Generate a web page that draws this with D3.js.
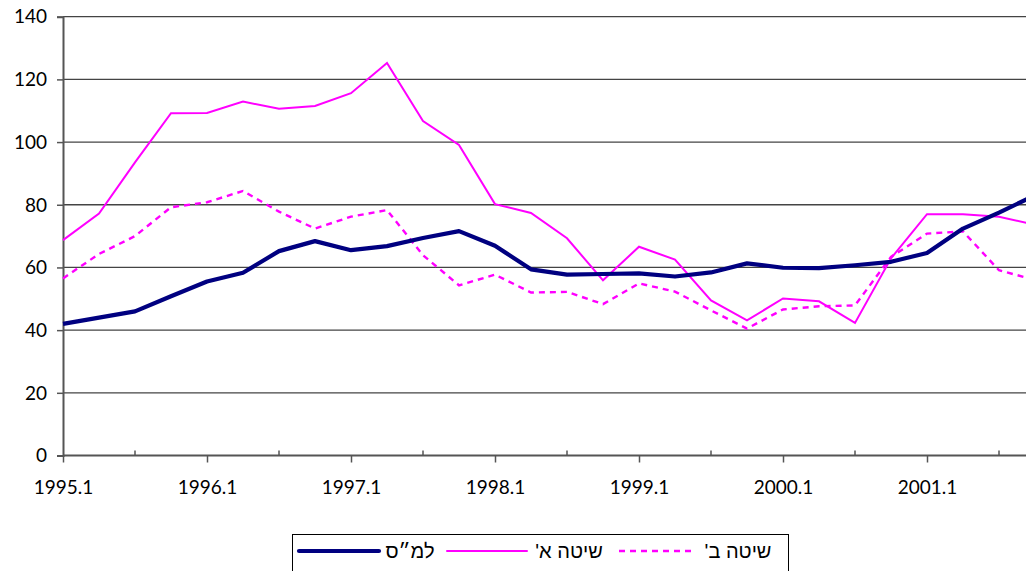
<!DOCTYPE html>
<html><head><meta charset="utf-8">
<script src="https://cdn.jsdelivr.net/npm/d3@7"></script>
<style>
html,body{margin:0;padding:0;background:#fff;overflow:hidden}
svg{display:block}
</style></head>
<body>
<svg id="chart" width="1026" height="571"></svg>
<script>
// ---- data ----
const quarters = [];
for (let y = 1995; y <= 2001; y++) for (let q = 1; q <= 4; q++) quarters.push(y + "." + q);
const seriesNames = ["למ״ס", "שיטה א'", "שיטה ב'"];
const lamas = [42, 44, 46, 50.8, 55.5, 58.3, 65.2, 68.4, 65.5, 66.8, 69.4, 71.6, 66.9, 59.4, 57.7, 57.9, 58.1, 57.1, 58.4, 61.3, 59.9, 59.8, 60.7, 61.8, 64.6, 72.4, 77.5, 83];
const methodA = [68.7, 77.2, 93.5, 109.2, 109.3, 112.9, 110.6, 111.5, 115.6, 125.2, 106.7, 99.1, 80.2, 77.4, 69.3, 55.9, 66.6, 62.5, 49.5, 43.1, 50.1, 49.2, 42.3, 62.9, 77.0, 77.0, 76.2, 73.6];
const methodB = [56.5, 64.3, 70, 79.2, 80.8, 84.4, 77.8, 72.4, 76.2, 78.3, 63.9, 54.3, 57.7, 52.0, 52.2, 48.3, 54.9, 52.3, 46.3, 40.5, 46.6, 47.6, 47.9, 63.4, 70.8, 71.5, 59.1, 56];
const yTicks = [0, 20, 40, 60, 80, 100, 120, 140];

// ---- layout ----
const svg = d3.select("#chart");
const x0 = 63, step = 36;
const x = d3.scalePoint().domain(quarters).range([x0, x0 + step * (quarters.length - 1)]);
const y = d3.scaleLinear().domain([0, 140]).range([455.5, 16.7]);
const FONT = "Lato, 'DejaVu Sans', sans-serif";

// gridlines
svg.append("g").selectAll("line").data(yTicks.filter(d => d > 0)).join("line")
  .attr("x1", x0).attr("x2", 1026).attr("y1", d => y(d)).attr("y2", d => y(d))
  .attr("stroke", "#444").attr("stroke-width", 1.3);

// y axis
const yAxis = d3.axisLeft(y).tickValues(yTicks).tickSize(6).tickPadding(10);
const gy = svg.append("g").attr("transform", `translate(${x0},0)`).call(yAxis);
gy.select(".domain").attr("stroke", "#555").attr("stroke-width", 2);
gy.selectAll(".tick line").attr("stroke", "#555").attr("stroke-width", 1.5);
gy.selectAll(".tick text").attr("font-family", FONT).attr("font-size", 19).attr("fill", "#000").attr("dy", "0.33em");

// x axis (labels at first quarters)
const labelQ = quarters.filter(q => q.endsWith(".1"));
const xAxis = d3.axisBottom(x).tickValues(labelQ).tickSize(7).tickPadding(18);
const gx = svg.append("g").attr("transform", `translate(0,${y(0)})`).call(xAxis);
gx.select(".domain").attr("stroke", "#555").attr("stroke-width", 2).attr("d", `M${x0},0H1026`);
gx.selectAll(".tick line").attr("stroke", "#555").attr("stroke-width", 1.5);
gx.selectAll(".tick text").attr("font-family", FONT).attr("font-size", 19).attr("fill", "#000");
// inner ticks at third quarters
const midQ = quarters.filter(q => q.endsWith(".3"));
svg.append("g").selectAll("line").data(midQ).join("line")
  .attr("x1", d => x(d)).attr("x2", d => x(d)).attr("y1", y(0)).attr("y2", y(0) - 5)
  .attr("stroke", "#555").attr("stroke-width", 1.5);

// lines
const line = d3.line().x((d, i) => x(quarters[i])).y(d => y(d));
const clip = svg.append("clipPath").attr("id", "clip").append("rect")
  .attr("x", 0).attr("y", 0).attr("width", 1026).attr("height", 571);
const lg = svg.append("g").attr("clip-path", "url(#clip)");
lg.append("path").datum(methodB).attr("d", line).attr("fill", "none")
  .attr("stroke", "#FF00FF").attr("stroke-width", 2.4).attr("stroke-dasharray", "6,5");
lg.append("path").datum(methodA).attr("d", line).attr("fill", "none")
  .attr("stroke", "#FF00FF").attr("stroke-width", 2);
lg.append("path").datum(lamas).attr("d", line).attr("fill", "none")
  .attr("stroke", "#000080").attr("stroke-width", 4.2).attr("stroke-linejoin", "round");

// legend
const leg = svg.append("g");
leg.append("rect").attr("x", 292.5).attr("y", 534.5).attr("width", 496).attr("height", 50)
  .attr("fill", "#fff").attr("stroke", "#000").attr("stroke-width", 1);
const legItems = [
  {name: seriesNames[0], color: "#000080", w: 4.2, dash: null, lx1: 299, lx2: 379, tx: 410},
  {name: seriesNames[1], color: "#FF00FF", w: 2, dash: null, lx1: 447, lx2: 527, tx: 569},
  {name: seriesNames[2], color: "#FF00FF", w: 2.4, dash: "6,5", lx1: 619, lx2: 696, tx: 738}
];
legItems.forEach(it => {
  leg.append("line").attr("x1", it.lx1).attr("x2", it.lx2).attr("y1", 551).attr("y2", 551)
    .attr("stroke", it.color).attr("stroke-width", it.w).attr("stroke-linecap", it.dash ? "butt" : "round")
    .attr("stroke-dasharray", it.dash);
  leg.append("text").attr("x", it.tx).attr("y", 558).attr("text-anchor", "middle")
    .attr("direction", "rtl").attr("font-family", "'Liberation Sans', Arial, sans-serif")
    .attr("font-size", 20).attr("fill", "#000").text(it.name);
});
</script>
</body></html>
